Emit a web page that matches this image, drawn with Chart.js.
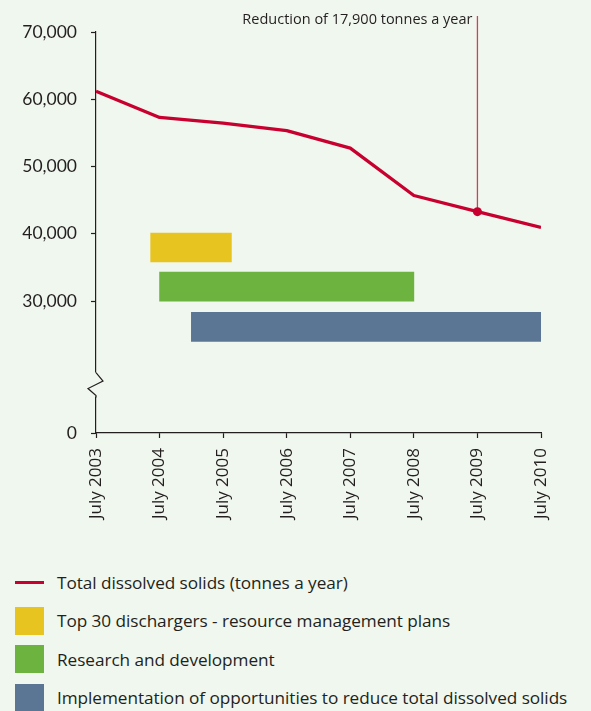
<!DOCTYPE html>
<html>
<head>
<meta charset="utf-8">
<script src="https://cdn.jsdelivr.net/npm/chart.js@4.4.0/dist/chart.umd.min.js"></script>
<style>
  html, body { margin: 0; padding: 0; background: #F0F7EE; }
  body { width: 591px; height: 711px; overflow: hidden; position: relative; font-family: 'Open Sans', sans-serif; color: #231F20; }
  #chart { position: absolute; left: 0; top: 0; }
  #legend { position: absolute; left: 15px; top: 563px; }
  .item { display: flex; align-items: center; height: 38.5px; font-size: 17.2px; letter-spacing: -0.05px; white-space: nowrap; }
  .sw { width: 29px; margin-right: 13px; flex: none; }
  .sw.box { height: 28px; }
  .sw.line { height: 3px; }
</style>
</head>
<body>
<canvas id="chart" width="591" height="560"></canvas>
<div id="legend"></div>
<script>
// ---- data ----
const periods = ['July 2003', 'July 2004', 'July 2005', 'July 2006', 'July 2007', 'July 2008', 'July 2009', 'July 2010'];
const periodYears = [2003.5, 2004.5, 2005.5, 2006.5, 2007.5, 2008.5, 2009.5, 2010.5];
const tdsLabel = 'Total dissolved solids (tonnes a year)';
const tdsValues = [61200, 57300, 56450, 55350, 52750, 45700, 43300, 40950];
const markedPeriod = 'July 2009';
const annotationText = 'Reduction of 17,900 tonnes a year';

const programmeLabels = [
  'Top 30 dischargers - resource management plans',
  'Research and development',
  'Implementation of opportunities to reduce total dissolved solids'
];
const programmeStart = [2004.36, 2004.5, 2005.0];
const programmeEnd = [2005.63, 2008.5, 2010.5];
const programmeLevel = [37970, 32150, 26180];

const yTickValues = [0, 30000, 40000, 50000, 60000, 70000];
const yTickLabels = ['0', '30,000', '40,000', '50,000', '60,000', '70,000'];

// ---- styles ----
const INK = '#231F20';
const RED = '#C8002F';
const programmeColors = ['#E8C421', '#6DB33F', '#5B7695'];
const Y_BREAK_BASE = 10400;   // where the broken axis shows "0"
const Y_BREAK_AT = 17600;     // centre of the zig-zag
const FONT = "'Open Sans', sans-serif";
const NUM_FONT = "'Lato', 'Open Sans', sans-serif";

const markIndex = periods.indexOf(markedPeriod);

const datasets = [{
  type: 'line',
  label: tdsLabel,
  data: periodYears.map((x, i) => ({ x: x, y: tdsValues[i] })),
  borderColor: RED,
  backgroundColor: RED,
  borderWidth: 3.3,
  borderJoinStyle: 'round',
  tension: 0,
  pointRadius: ctx => ctx.dataIndex === markIndex ? 4.5 : 0,
  pointBackgroundColor: RED,
  pointBorderWidth: 0,
  order: 0
}];
programmeLabels.forEach((lab, i) => {
  datasets.push({
    type: 'bar',
    label: lab,
    indexAxis: 'y',
    data: [{ y: programmeLevel[i], x: [programmeStart[i], programmeEnd[i]] }],
    backgroundColor: programmeColors[i],
    borderWidth: 0,
    barThickness: 29,
    grouped: false,
    order: 1
  });
});

const decorPlugin = {
  id: 'decor',
  afterDraw(chart) {
    const { ctx, scales: { x, y } } = chart;
    ctx.save();
    // axis break zig-zag
    const ax = x.left;
    const yc = y.getPixelForValue(Y_BREAK_AT);
    ctx.fillStyle = '#F0F7EE';
    ctx.fillRect(ax - 3, yc - 12, 6, 24);
    ctx.strokeStyle = INK;
    ctx.lineWidth = 1.2;
    ctx.beginPath();
    ctx.moveTo(ax, yc - 12);
    ctx.lineTo(ax + 7, yc - 3.5);
    ctx.lineTo(ax - 8, yc + 4);
    ctx.lineTo(ax, yc + 11);
    ctx.lineTo(ax, yc + 13);
    ctx.stroke();
    // annotation
    const px = x.getPixelForValue(periodYears[markIndex]);
    const py = y.getPixelForValue(tdsValues[markIndex]);
    ctx.strokeStyle = 'rgba(200,0,47,0.75)';
    ctx.lineWidth = 1.3;
    ctx.beginPath();
    ctx.moveTo(px, 16);
    ctx.lineTo(px, py);
    ctx.stroke();
    ctx.fillStyle = INK;
    ctx.font = '14.5px ' + FONT;
    ctx.textAlign = 'right';
    ctx.textBaseline = 'middle';
    ctx.fillText(annotationText, px - 5, 20);
    ctx.restore();
  }
};

const chart = new Chart(document.getElementById('chart'), {
  type: 'line',
  data: { datasets },
  options: {
    responsive: false,
    animation: false,
    events: [],
    layout: { padding: { top: 32, right: 50, left: 0, bottom: 0 } },
    plugins: { legend: { display: false }, tooltip: { enabled: false } },
    scales: {
      x: {
        type: 'linear',
        min: periodYears[0],
        max: periodYears[periodYears.length - 1],
        offset: false,
        beginAtZero: false,
        afterBuildTicks: axis => { axis.ticks = periodYears.map(v => ({ value: v })); },
        afterFit: axis => { axis.height = 560 - 433; },
        ticks: {
          callback: (v, i) => periods[i],
          minRotation: 90, maxRotation: 90,
          padding: 10,
          color: INK,
          font: { family: FONT, size: 17 },
          autoSkip: false
        },
        grid: { drawOnChartArea: false, drawTicks: true, tickLength: 5, tickColor: INK, tickWidth: 1.2, offset: false },
        border: { display: true, color: INK, width: 1.2 }
      },
      y: {
        type: 'linear',
        min: Y_BREAK_BASE,
        max: 70000,
        offset: false,
        afterBuildTicks: axis => { axis.ticks = yTickValues.map(v => ({ value: Math.max(v, Y_BREAK_BASE) })); },
        afterFit: axis => { axis.width = 96; },
        ticks: {
          callback: (v, i) => yTickLabels[i],
          padding: 14,
          color: INK,
          font: { family: NUM_FONT, size: 17.5 },
          autoSkip: false
        },
        grid: { drawOnChartArea: false, drawTicks: true, tickLength: 5, tickColor: INK, tickWidth: 1.2, offset: false },
        border: { display: true, color: INK, width: 1.2 }
      }
    }
  },
  plugins: [decorPlugin]
});

// HTML legend built from the chart's datasets
const legendEl = document.getElementById('legend');
chart.data.datasets.forEach(ds => {
  const row = document.createElement('div');
  row.className = 'item';
  const sw = document.createElement('span');
  sw.className = 'sw ' + (ds.type === 'line' ? 'line' : 'box');
  sw.style.background = ds.type === 'line' ? ds.borderColor : ds.backgroundColor;
  const tx = document.createElement('span');
  tx.textContent = ds.label;
  row.appendChild(sw);
  row.appendChild(tx);
  legendEl.appendChild(row);
});
</script>
</body>
</html>
